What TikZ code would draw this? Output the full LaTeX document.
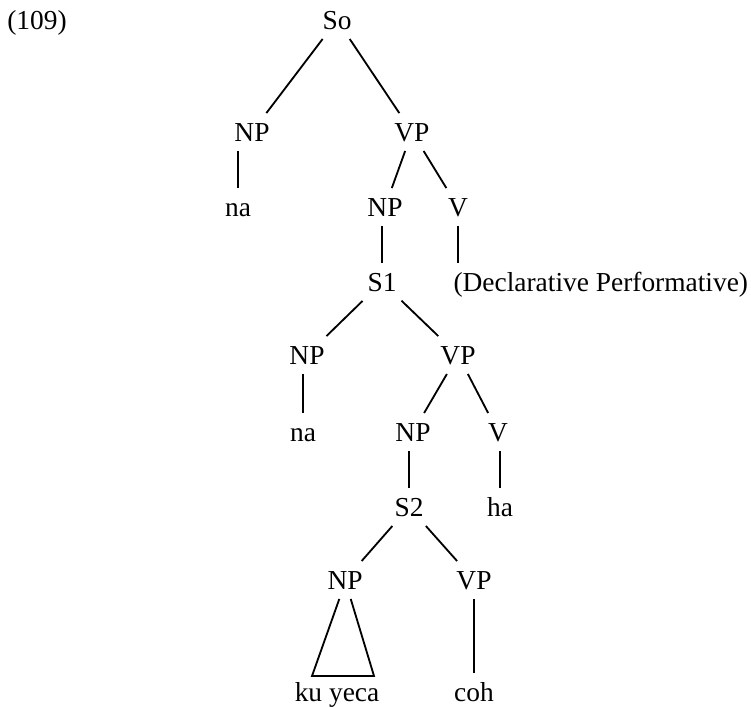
\documentclass[tikz,border=0pt]{standalone}
\usepackage{fontspec}
\setmainfont{Liberation Serif}

\begin{document}
\begin{tikzpicture}[
        cat/.style={inner xsep=2pt, inner ysep=4pt, text height=8.2pt, text depth=0pt,
                    font=\fontsize{12}{14}\selectfont},
        branch/.style={line width=0.8pt}]
            \useasboundingbox (0,0) rectangle (11.554,-10.862);
            \node[cat] (ex) at (0.569,-0.308) {(109)};
            % top clause
            \node[cat] (so) at (5.185,-0.308) {So};
            \node[cat] (np1) at (3.877,-2.031) {NP};
            \node[cat] (vp1) at (6.338,-2.031) {VP};
            \node[cat] (na1) at (3.662,-3.185) {na};
            \node[cat] (np2) at (5.923,-3.185) {NP};
            \node[cat] (v2) at (7.046,-3.185) {V};
            \node[cat, anchor=west] (decl) at (6.90,-4.338) {(Declarative Performative)};
            % S1
            \node[cat] (s1) at (5.877,-4.338) {S1};
            \node[cat] (np3) at (4.723,-5.462) {NP};
            \node[cat] (vp3) at (7.046,-5.462) {VP};
            \node[cat] (na3) at (4.662,-6.646) {na};
            \node[cat] (np4) at (6.354,-6.646) {NP};
            \node[cat] (v4) at (7.662,-6.646) {V};
            \node[cat] (ha) at (7.692,-7.800) {ha};
            % S2
            \node[cat] (s2) at (6.292,-7.800) {S2};
            \node[cat] (np5) at (5.308,-8.923) {NP};
            \node[cat] (vp5) at (7.292,-8.923) {VP};
            \node[cat] (kuyeca) at (5.185,-10.646) {ku yeca};
            \node[cat] (coh) at (7.292,-10.646) {coh};
            \coordinate (tril) at (4.800,-10.400);
            \coordinate (trir) at (5.754,-10.400);

            \draw[branch] (so) -- (np1);
            \draw[branch] (so) -- (vp1);
            \draw[branch] (na1.north) -- (na1.north |- np1.south);
            \draw[branch] (vp1) -- (np2);
            \draw[branch] (vp1) -- (v2);
            \draw[branch] (s1.north) -- (s1.north |- np2.south);
            \draw[branch] (v2.south) -- (v2.south |- decl.north);
            \draw[branch] (s1) -- (np3);
            \draw[branch] (s1) -- (vp3);
            \draw[branch] (na3.north) -- (na3.north |- np3.south);
            \draw[branch] (vp3) -- (np4);
            \draw[branch] (vp3) -- (v4);
            \draw[branch] (s2.north) -- (s2.north |- np4.south);
            \draw[branch] (ha.north) -- (ha.north |- v4.south);
            \draw[branch] (s2) -- (np5);
            \draw[branch] (s2) -- (vp5);
            \draw[branch] ([xshift=-2.5pt]np5.south) -- (tril) -- (trir) -- ([xshift=2.5pt]np5.south);
            \draw[branch] (coh.north) -- (coh.north |- vp5.south);
        \end{tikzpicture}
\end{document}
